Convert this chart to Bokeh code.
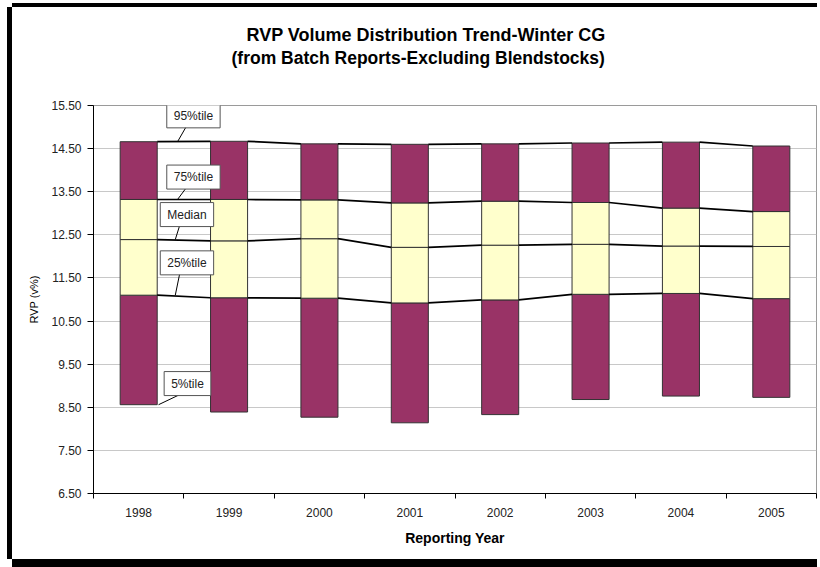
from bokeh.plotting import figure
from bokeh.models import FixedTicker, Label, Range1d, PrintfTickFormatter, Title
from bokeh.embed import file_html
from bokeh.resources import INLINE

years = ["1998", "1999", "2000", "2001", "2002", "2003", "2004", "2005"]
p5 = [8.56, 8.39, 8.27, 8.14, 8.33, 8.68, 8.76, 8.73]
p25 = [11.10, 11.04, 11.03, 10.92, 10.99, 11.12, 11.14, 11.02]
med = [12.39, 12.36, 12.41, 12.21, 12.26, 12.28, 12.24, 12.23]
p75 = [13.32, 13.32, 13.31, 13.24, 13.28, 13.25, 13.12, 13.04]
p95 = [14.66, 14.67, 14.61, 14.60, 14.61, 14.63, 14.65, 14.56]
y_ticks = [6.5, 7.5, 8.5, 9.5, 10.5, 11.5, 12.5, 13.5, 14.5, 15.5]

MAROON = "#993366"
YELLOW = "#FFFFCC"
FONT = "Liberation Sans"

n = len(years)
xs = [i + 0.5 for i in range(n)]
bw = 0.41

p = figure(width=805, height=552, x_range=Range1d(0, n), y_range=Range1d(6.5, 15.5),
           title=None, output_backend="svg", toolbar_location=None,
           min_border_left=81, min_border_right=1, min_border_top=98, min_border_bottom=66,
           background_fill_color="white", border_fill_color="white")
p.outline_line_color = "#9a9a9a"
p.xgrid.visible = False
p.ygrid.grid_line_color = "#c8c8c8"

# stacked segments
p.vbar(x=xs, width=bw, bottom=p5, top=p25, fill_color=MAROON, line_color="#333333", line_width=1)
p.vbar(x=xs, width=bw, bottom=p25, top=med, fill_color=YELLOW, line_color="#333333", line_width=1)
p.vbar(x=xs, width=bw, bottom=med, top=p75, fill_color=YELLOW, line_color="#333333", line_width=1)
p.vbar(x=xs, width=bw, bottom=p75, top=p95, fill_color=MAROON, line_color="#333333", line_width=1)

# series lines
for s in [p25, med, p75, p95]:
    x0 = [xs[i] + bw / 2 for i in range(n - 1)]
    x1 = [xs[i + 1] - bw / 2 for i in range(n - 1)]
    p.segment(x0=x0, y0=s[:-1], x1=x1, y1=s[1:], line_color="black", line_width=1.7)

# callouts (anchored to the 1998 values)
callouts = [
    ("95%tile", p95[0], 1.106, 0.60, 0.93),
    ("75%tile", p75[0], 1.106, 0.52, 0.93),
    ("Median", med[0], 1.034, 0.58, 0.905),
    ("25%tile", p25[0], 1.034, 0.75, 0.905),
    ("5%tile", p5[0], 1.04, 0.49, 0.72),
]
for txt, v, lx, dy, px in callouts:
    ly = v + dy
    p.segment(x0=[lx - 0.08], y0=[ly - 0.25], x1=[px], y1=[v], line_color="black", line_width=1)
    p.add_layout(Label(x=lx, y=ly, text=txt, text_align="center", text_baseline="middle",
                       text_font=FONT, text_font_size="12px", text_color="#222222",
                       background_fill_color="white", border_line_color="#555555",
                       border_line_width=1, padding=(7, 5)))

# axes
p.yaxis.ticker = FixedTicker(ticks=y_ticks)
p.ygrid.ticker = FixedTicker(ticks=y_ticks)
p.yaxis.formatter = PrintfTickFormatter(format="%.2f")
p.yaxis.major_tick_in = 0
p.yaxis.major_tick_out = 6
p.yaxis.minor_tick_line_color = None
p.yaxis.axis_label = "RVP (v%)"

p.xaxis.ticker = FixedTicker(ticks=xs, minor_ticks=list(range(n + 1)))
p.xaxis.major_label_overrides = {x: y for x, y in zip(xs, years)}
p.xaxis.major_tick_line_color = None
p.xaxis.minor_tick_in = 0
p.xaxis.minor_tick_out = 5
p.xaxis.minor_tick_line_color = "black"
p.xaxis.major_label_standoff = 8
p.xaxis.axis_label = "Reporting Year"
p.xaxis.axis_label_standoff = 10

for ax in [p.xaxis[0], p.yaxis[0]]:
    ax.axis_line_color = "black"
    ax.major_label_text_font = FONT
    ax.major_label_text_font_size = "12px"
    ax.major_label_text_color = "#222222"
    ax.axis_label_text_font = FONT
    ax.axis_label_text_color = "black"
p.xaxis.axis_label_text_font_size = "14px"
p.xaxis.axis_label_text_font_style = "bold"
p.yaxis.axis_label_text_font_size = "11px"
p.yaxis.axis_label_text_font_style = "normal"
p.yaxis.major_label_standoff = 6
p.yaxis.axis_label_standoff = 8

# title lines (a blank spacer title keeps them clear of the plot area)
p.add_layout(Title(text=" ", text_font_size="2px", standoff=33), "above")
p.add_layout(Title(text="(from Batch Reports-Excluding Blendstocks)", align="left",
                   text_font=FONT, text_font_size="17.5px", text_font_style="bold",
                   text_color="black", standoff=2, offset=138), "above")
p.add_layout(Title(text="RVP Volume Distribution Trend-Winter CG", align="left",
                   text_font=FONT, text_font_size="18px", text_font_style="bold",
                   text_color="black", standoff=0, offset=153), "above")

p.styles = {"margin-left": "12px", "margin-top": "7px", "overflow": "hidden",
            "box-shadow": "-5px 0 0 0 black, 0 8px 0 0 black, 0 -4px 0 0 black"}

open("out.html", "w").write(file_html(p, INLINE))
